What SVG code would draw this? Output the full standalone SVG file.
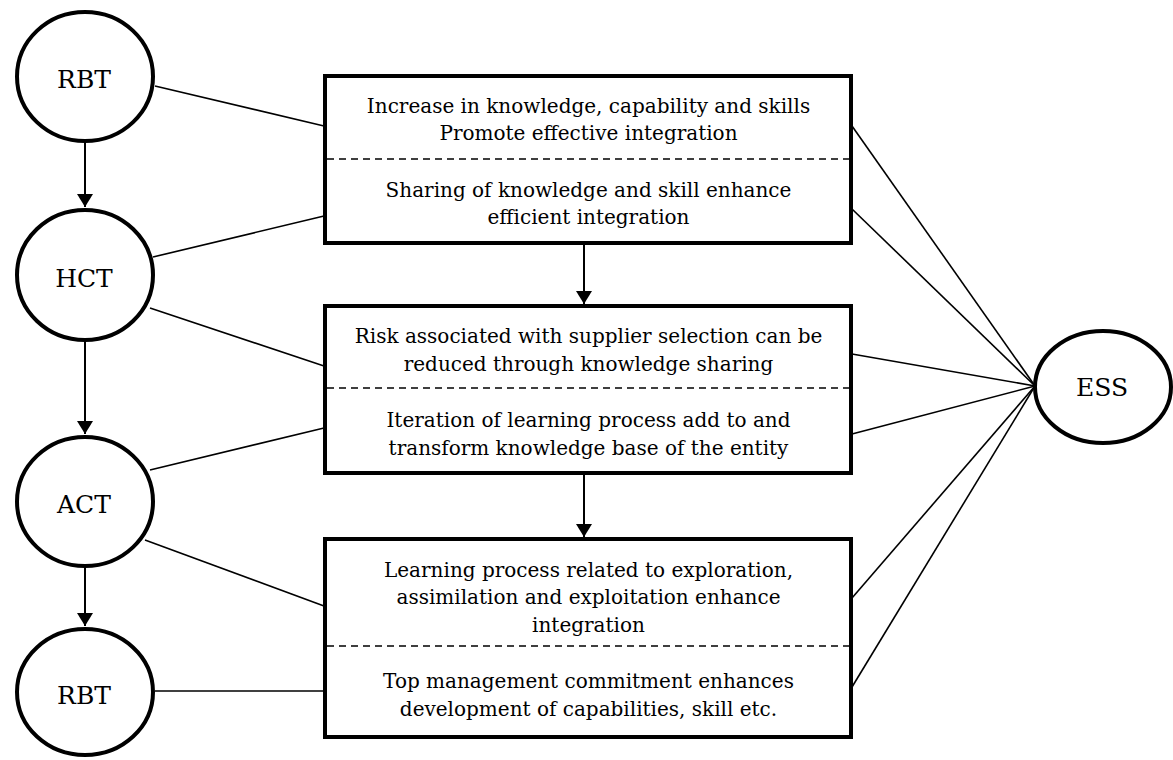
<svg xmlns="http://www.w3.org/2000/svg" width="1173" height="760" viewBox="0 0 1173 760">
<defs>
<style>
.node{fill:#fff;stroke:#000;stroke-width:4}
.lbl{font-family:"DejaVu Serif","Liberation Serif",serif;font-size:25px;fill:#000;text-anchor:middle}
.txt{font-family:"DejaVu Serif","Liberation Serif",serif;font-size:20px;fill:#000;text-anchor:middle}
.div{stroke:#000;stroke-width:1.6;stroke-dasharray:7 5;fill:none}
.link{stroke:#000;stroke-width:1.6;fill:none}
.arr{stroke:#000;stroke-width:2;fill:none;marker-end:url(#ah)}
</style>
<marker id="ah" viewBox="0 0 13 16" refX="13" refY="8" markerWidth="13" markerHeight="16" markerUnits="userSpaceOnUse" orient="auto">
<path d="M0,0 L13,8 L0,16 z" fill="#000"/>
</marker>
</defs>
<rect width="1173" height="760" fill="#fff"/>
<g id="connectors">
<line class="link" x1="155" y1="86" x2="324" y2="126"/>
<line class="link" x1="153" y1="257" x2="324" y2="216"/>
<line class="link" x1="150" y1="308" x2="324" y2="366"/>
<line class="link" x1="150" y1="470" x2="324" y2="428"/>
<line class="link" x1="145" y1="540" x2="324" y2="606"/>
<line class="link" x1="155" y1="691" x2="324" y2="691"/>
<line class="link" x1="852" y1="126" x2="1035" y2="386"/>
<line class="link" x1="852" y1="209" x2="1035" y2="386"/>
<line class="link" x1="852" y1="354" x2="1035" y2="386"/>
<line class="link" x1="852" y1="434" x2="1035" y2="386"/>
<line class="link" x1="852" y1="598" x2="1035" y2="386"/>
<line class="link" x1="852" y1="687" x2="1035" y2="386"/>
<line class="arr" x1="85" y1="143" x2="85" y2="207"/>
<line class="arr" x1="85" y1="342" x2="85" y2="434"/>
<line class="arr" x1="85" y1="568" x2="85" y2="626"/>
<line class="arr" x1="584" y1="245" x2="584" y2="304"/>
<line class="arr" x1="584" y1="475" x2="584" y2="537"/>
</g>
<g id="rbt1">
<ellipse class="node" cx="85" cy="76.5" rx="68" ry="64.5"/>
<text class="lbl" x="84" y="88">RBT</text>
</g>
<g id="hct">
<ellipse class="node" cx="85" cy="275" rx="68" ry="65"/>
<text class="lbl" x="84" y="287">HCT</text>
</g>
<g id="act">
<ellipse class="node" cx="85" cy="501.5" rx="68" ry="64.5"/>
<text class="lbl" x="84" y="513">ACT</text>
</g>
<g id="rbt2">
<ellipse class="node" cx="85" cy="692" rx="68" ry="63"/>
<text class="lbl" x="84" y="704">RBT</text>
</g>
<g id="ess">
<ellipse class="node" cx="1103" cy="387" rx="68" ry="56"/>
<text class="lbl" x="1102" y="396">ESS</text>
</g>
<g id="box1">
<rect class="node" x="325" y="76" width="526" height="167"/>
<line class="div" x1="327" y1="159" x2="849" y2="159"/>
<text class="txt" x="588.5" y="113">Increase in knowledge, capability and skills</text>
<text class="txt" x="588.5" y="140">Promote effective integration</text>
<text class="txt" x="588.5" y="197">Sharing of knowledge and skill enhance</text>
<text class="txt" x="588.5" y="224">efficient integration</text>
</g>
<g id="box2">
<rect class="node" x="325" y="306" width="526" height="167"/>
<line class="div" x1="327" y1="388" x2="849" y2="388"/>
<text class="txt" x="588.5" y="343">Risk associated with supplier selection can be</text>
<text class="txt" x="588.5" y="371">reduced through knowledge sharing</text>
<text class="txt" x="588.5" y="427">Iteration of learning process add to and</text>
<text class="txt" x="588.5" y="455">transform knowledge base of the entity</text>
</g>
<g id="box3">
<rect class="node" x="325" y="539" width="526" height="198"/>
<line class="div" x1="327" y1="646" x2="849" y2="646"/>
<text class="txt" x="588.5" y="577">Learning process related to exploration,</text>
<text class="txt" x="588.5" y="604">assimilation and exploitation enhance</text>
<text class="txt" x="588.5" y="632">integration</text>
<text class="txt" x="588.5" y="688">Top management commitment enhances</text>
<text class="txt" x="588.5" y="716">development of capabilities, skill etc.</text>
</g>
</svg>
